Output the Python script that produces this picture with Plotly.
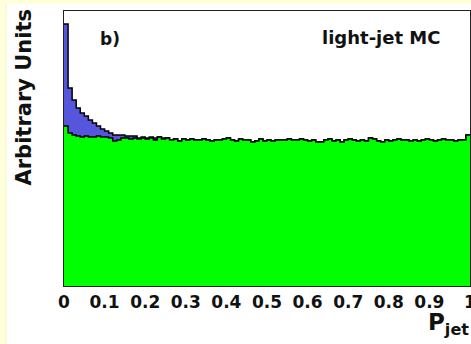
import numpy as np
import plotly.graph_objects as go

# ---- data (arbitrary units, 100 bins in P_jet from 0 to 1) ----
n_bins = 100
x_min, x_max = 0.0, 1.0

green_counts = [
    160, 153, 151, 150, 149, 150, 149, 149, 150, 149,
    149, 148, 145, 146, 148, 148, 147, 148, 147, 148,
    147, 148, 146, 149, 147, 148, 146, 147, 145, 147,
    146, 147, 146, 146, 147, 146, 145, 146, 146, 147,
    148, 146, 145, 147, 146, 146, 144, 145, 147, 145,
    146, 145, 146, 146, 146, 147, 146, 146, 147, 146,
    145, 146, 144, 144, 146, 147, 145, 146, 144, 146,
    147, 146, 145, 146, 145, 148, 147, 145, 144, 146,
    145, 146, 147, 146, 146, 145, 146, 145, 146, 147,
    146, 145, 146, 147, 146, 146, 145, 146, 146, 151,
]

blue_counts = [
    262, 198, 186, 178, 173, 170, 166, 163, 160, 157,
    155, 153, 151, 151, 151, 150, 150, 150, 148, 149,
    148, 149, 148, 149, 148, 148, 146, 147, 145, 147,
    146, 147, 146, 146, 147, 146, 145, 146, 146, 147,
    148, 146, 145, 147, 146, 146, 144, 145, 147, 145,
    146, 145, 146, 146, 146, 147, 146, 146, 147, 146,
    145, 146, 144, 144, 146, 147, 145, 146, 144, 146,
    147, 146, 145, 146, 145, 148, 147, 145, 144, 146,
    145, 146, 147, 146, 146, 145, 146, 145, 146, 147,
    146, 145, 146, 147, 146, 146, 145, 146, 146, 151,
]

tick_vals = [0, 0.1, 0.2, 0.3, 0.4, 0.5, 0.6, 0.7, 0.8, 0.9, 1.0]
tick_labels = ["0", "0.1", "0.2", "0.3", "0.4", "0.5", "0.6", "0.7", "0.8", "0.9", "1"]
y_max = 275

edges = np.linspace(x_min, x_max, n_bins + 1)


def step_xy(vals):
    return list(edges), list(vals) + [vals[-1]]


FONT = "DejaVu Sans"
fig = go.Figure()

bx, by = step_xy(blue_counts)
fig.add_trace(go.Scatter(x=bx, y=by, mode="lines", line=dict(shape="hv", color="black", width=1.5),
                         fill="tozeroy", fillcolor="#5656dc", hoverinfo="skip", showlegend=False))
gx, gy = step_xy(green_counts)
fig.add_trace(go.Scatter(x=gx, y=gy, mode="lines", line=dict(shape="hv", color="black", width=1.5),
                         fill="tozeroy", fillcolor="#00ff00", hoverinfo="skip", showlegend=False))

W, H = 471, 344
L, R, T, B = 64, 1, 11, 58
pw, ph = W - L - R, H - T - B


def px_x(px):
    return (px - L) / pw


def px_y(py):
    return (H - B - py) / ph


fig.update_layout(
    width=W, height=H,
    margin=dict(l=L, r=R, t=T, b=B, autoexpand=False),
    paper_bgcolor="white", plot_bgcolor="white",
    xaxis=dict(range=[x_min, x_max], tickvals=tick_vals, ticktext=tick_labels,
               showgrid=False, zeroline=False, showline=True, linecolor="#222", linewidth=1,
               mirror=True, ticks="outside", ticklen=1, tickcolor="rgba(0,0,0,0)",
               ticklabeloverflow="allow", automargin=False,
               tickfont=dict(family=FONT, size=17, color="#111", weight="bold")),
    yaxis=dict(range=[0, y_max], showticklabels=False, showgrid=False, zeroline=False,
               showline=True, linecolor="#222", linewidth=1, mirror=True, ticks="",
               automargin=False),
    shapes=[
        dict(type="rect", xref="paper", yref="paper", x0=px_x(0), x1=px_x(6), y0=px_y(H), y1=px_y(0),
             fillcolor="#FFFFDC", line=dict(width=0), layer="below"),
        dict(type="rect", xref="paper", yref="paper", x0=px_x(0), x1=px_x(W), y0=px_y(4), y1=px_y(0),
             fillcolor="#FFFFDC", line=dict(width=0), layer="below"),
        dict(type="line", xref="paper", yref="paper", x0=px_x(6), x1=px_x(6), y0=px_y(H), y1=px_y(4),
             line=dict(color="#F2F2C8", width=1), layer="below"),
    ],
    annotations=[
        dict(text="Arbitrary Units", xref="paper", yref="paper", x=px_x(23), y=px_y(97.5),
             xanchor="center", yanchor="middle", textangle=-90, showarrow=False,
             font=dict(family=FONT, size=21, color="#111", weight="bold")),
        dict(text="b)", xref="paper", yref="paper", x=px_x(98), y=px_y(39),
             xanchor="left", yanchor="middle", showarrow=False,
             font=dict(family=FONT, size=17, color="#111", weight="bold")),
        dict(text="light-jet MC", xref="paper", yref="paper", x=px_x(381), y=px_y(38),
             xanchor="center", yanchor="middle", showarrow=False,
             font=dict(family=FONT, size=18, color="#111", weight="bold")),
        dict(text="P<sub>jet</sub>", xref="paper", yref="paper", x=px_x(471), y=px_y(341),
             xanchor="right", yanchor="bottom", showarrow=False,
             font=dict(family=FONT, size=23, color="#111", weight="bold")),
    ],
)

fig.write_html("out.html", config={"displayModeBar": False},
               post_script="document.body.style.margin='0';document.body.style.overflow='hidden';")
